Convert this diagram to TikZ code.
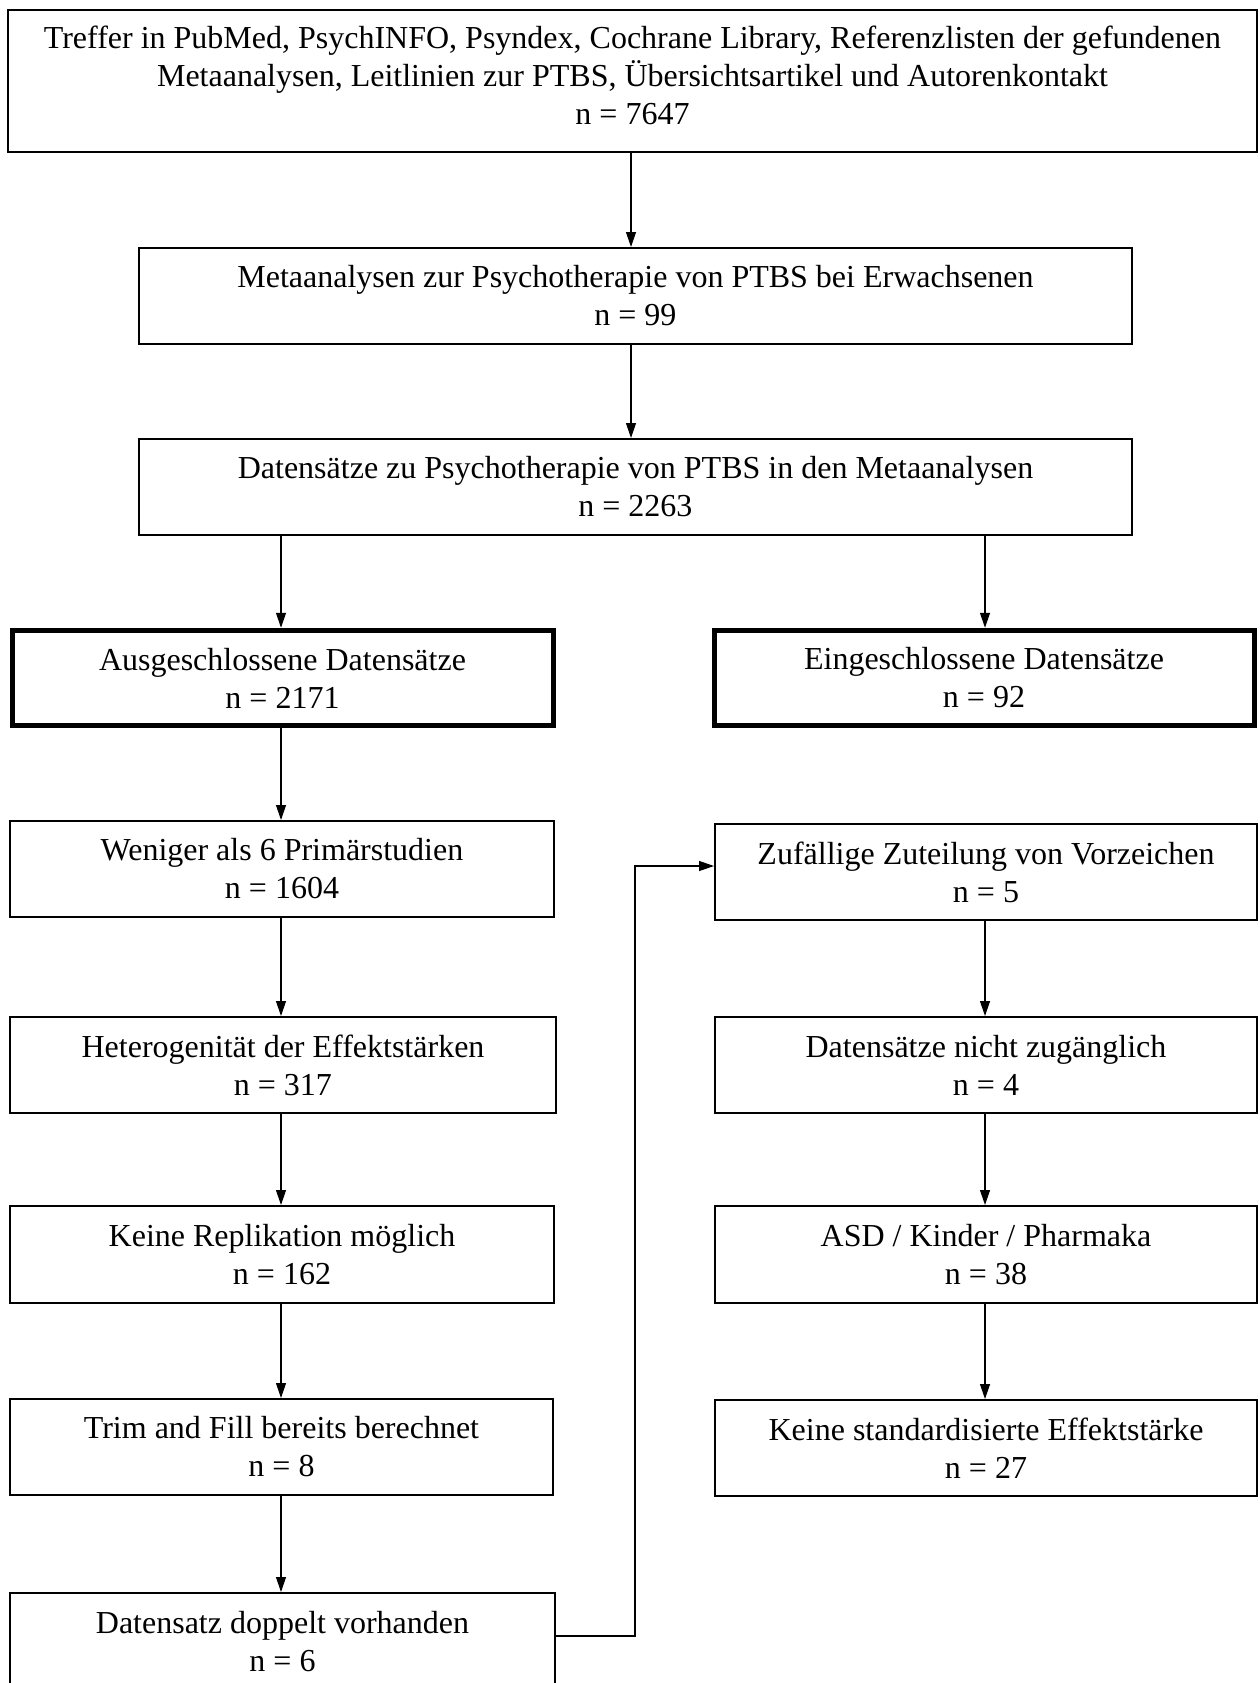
\documentclass[tikz,border=0pt]{standalone}
\usepackage{fontspec}
\setmainfont{Liberation Serif}
\usetikzlibrary{arrows.meta}
\begin{document}
\begin{tikzpicture}[x=1pt,y=-1pt,
  boxthin/.style={draw=black,line width=2pt,align=center,inner sep=0pt,
    font=\fontsize{32}{38}\selectfont},
  boxthick/.style={boxthin,line width=5pt},
  arr/.style={draw=black,line width=1.2pt,-{Triangle[length=15pt,width=10pt]}},
  plain/.style={draw=black,line width=1.2pt}]
\useasboundingbox (0,0) rectangle (1259,1683);
\clip (0,0) rectangle (1259,1683);
\fill[white] (0,0) rectangle (1259,1683);
% coordinates for connector columns
\coordinate (xc) at (631,0);
\coordinate (xl) at (281,0);
\coordinate (xr) at (985,0);
\coordinate (xm) at (635,0);
% nodes
\node[boxthin,minimum width=1249pt,minimum height=142pt] (top) at (632.5,81)
  {Treffer in PubMed, PsychINFO, Psyndex, Cochrane Library, Referenzlisten der gefundenen\\
   Metaanalysen, Leitlinien zur PTBS, Übersichtsartikel und Autorenkontakt\\ n = 7647\rule[-12pt]{0pt}{1pt}};
\node[boxthin,minimum width=993pt,minimum height=96pt] (meta) at (635.5,296)
  {Metaanalysen zur Psychotherapie von PTBS bei Erwachsenen\\ n = 99};
\node[boxthin,minimum width=993pt,minimum height=96pt] (daten) at (635.5,487)
  {Datensätze zu Psychotherapie von PTBS in den Metaanalysen\\ n = 2263};
\node[boxthick,minimum width=541pt,minimum height=95.5pt] (aus) at (282.5,678)
  {Ausgeschlossene Datensätze\\ n = 2171};
\node[boxthick,minimum width=540pt,minimum height=95.5pt] (ein) at (984,678)
  {Eingeschlossene Datensätze\\ n = 92};
\node[boxthin,minimum width=544pt,minimum height=96pt] (wen) at (282,869)
  {Weniger als 6 Primärstudien\\ n = 1604};
\node[boxthin,minimum width=542pt,minimum height=96pt] (zuf) at (986,872)
  {Zufällige Zuteilung von Vorzeichen\\ n = 5};
\node[boxthin,minimum width=546pt,minimum height=96pt] (het) at (283,1065)
  {Heterogenität der Effektstärken\\ n = 317};
\node[boxthin,minimum width=542pt,minimum height=96pt] (nz) at (986,1065)
  {Datensätze nicht zugänglich\\ n = 4};
\node[boxthin,minimum width=544pt,minimum height=97pt] (rep) at (282,1254.5)
  {Keine Replikation möglich\\ n = 162};
\node[boxthin,minimum width=542pt,minimum height=97pt] (asd) at (986,1254.5)
  {ASD / Kinder / Pharmaka\\ n = 38};
\node[boxthin,minimum width=543pt,minimum height=96pt] (trim) at (281.5,1447)
  {Trim and Fill bereits berechnet\\ n = 8};
\node[boxthin,minimum width=542pt,minimum height=96pt] (std) at (986,1448)
  {Keine standardisierte Effektstärke\\ n = 27};
\node[boxthin,minimum width=545pt,minimum height=97pt] (dop) at (282.5,1641.5)
  {Datensatz doppelt vorhanden\\ n = 6};
% connectors
\draw[arr] (top.south -| xc) -- (meta.north -| xc);
\draw[arr] (meta.south -| xc) -- (daten.north -| xc);
\draw[arr] (daten.south -| xl) -- (aus.north -| xl);
\draw[arr] (daten.south -| xr) -- (ein.north -| xr);
\draw[arr] (aus.south -| xl) -- (wen.north -| xl);
\draw[arr] (wen.south -| xl) -- (het.north -| xl);
\draw[arr] (het.south -| xl) -- (rep.north -| xl);
\draw[arr] (rep.south -| xl) -- (trim.north -| xl);
\draw[arr] (trim.south -| xl) -- (dop.north -| xl);
\draw[arr] (zuf.south -| xr) -- (nz.north -| xr);
\draw[arr] (nz.south -| xr) -- (asd.north -| xr);
\draw[arr] (asd.south -| xr) -- (std.north -| xr);
\coordinate (dy) at (0,1636);
\coordinate (zy) at (0,866);
\draw[arr] (dop.east |- dy) -| (xm |- zy) -- (zuf.west |- zy);
\end{tikzpicture}
\end{document}
